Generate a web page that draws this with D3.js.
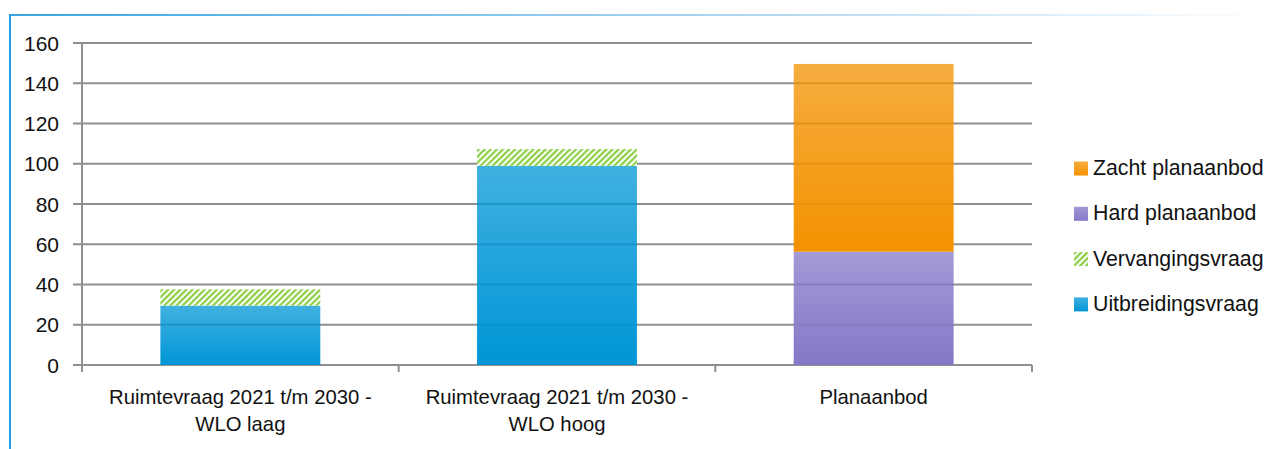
<!DOCTYPE html>
<html>
<head>
<meta charset="utf-8">
<script src="https://cdn.jsdelivr.net/npm/d3@7"></script>
<style>
  body { margin: 0; background: #fff; }
  svg { display: block; }
  text { font-family: "Liberation Sans", Arial, sans-serif; fill: #111; }
</style>
</head>
<body>
<svg id="chart" width="1269" height="449"></svg>
<script>
// categorieen (labels op de x-as, \n = regelafbreking)
var categories = ["Ruimtevraag 2021 t/m 2030 -\nWLO laag", "Ruimtevraag 2021 t/m 2030 -\nWLO hoog", "Planaanbod"];
// waarden per reeks
var uitbreidingsvraag = [29.5, 99.0, 0];
var vervangingsvraag = [8.1, 8.3, 0];
var hardPlanaanbod = [0, 0, 56.3];
var zachtPlanaanbod = [0, 0, 93.3];
var seriesNames = ["Uitbreidingsvraag", "Vervangingsvraag", "Hard planaanbod", "Zacht planaanbod"];
var yTicks = [0, 20, 40, 60, 80, 100, 120, 140, 160];

var svg = d3.select("#chart");
var defs = svg.append("defs");

var colors = {
  "Uitbreidingsvraag": "#0096d6",
  "Hard planaanbod": "#8478c8",
  "Zacht planaanbod": "#f39200"
};

// verloop per segment: boven iets doorzichtig, onder vol
Object.keys(colors).forEach(function(k, i) {
  var g = defs.append("linearGradient")
    .attr("id", "grad" + i)
    .attr("x1", 0).attr("y1", 0).attr("x2", 0).attr("y2", 1);
  g.append("stop").attr("offset", "0%").attr("stop-color", colors[k]).attr("stop-opacity", 0.75);
  g.append("stop").attr("offset", "100%").attr("stop-color", colors[k]).attr("stop-opacity", 1);
  colors[k] = "url(#grad" + i + ")";
});

var pat = defs.append("pattern")
  .attr("id", "hatch")
  .attr("patternUnits", "userSpaceOnUse")
  .attr("width", 4.3).attr("height", 4.3)
  .attr("patternTransform", "rotate(45)");
pat.append("rect").attr("width", 4.3).attr("height", 4.3).attr("fill", "#fff");
pat.append("rect").attr("width", 2.3).attr("height", 4.3).attr("fill", "#8fd04a");
colors["Vervangingsvraag"] = "url(#hatch)";

// rand om de figuur
var edge = defs.append("linearGradient").attr("id", "edge");
edge.append("stop").attr("offset", "0%").attr("stop-color", "#3aa6e2");
edge.append("stop").attr("offset", "55%").attr("stop-color", "#a9d3f0");
edge.append("stop").attr("offset", "100%").attr("stop-color", "#ffffff");
svg.append("rect").attr("x", 9).attr("y", 14).attr("width", 1260).attr("height", 2).attr("fill", "url(#edge)");
svg.append("rect").attr("x", 9).attr("y", 14).attr("width", 2).attr("height", 435).attr("fill", "#1d9fe3");

var plotLeft = 82, plotRight = 1032, plotTop = 43, plotBottom = 365;

var x = d3.scaleBand()
  .domain(d3.range(categories.length))
  .range([plotLeft, plotRight])
  .paddingInner(0.495)
  .paddingOuter(0.2475);
var xOuter = d3.scaleBand().domain(d3.range(categories.length)).range([plotLeft, plotRight]);
var y = d3.scaleLinear().domain([0, 160]).range([plotBottom, plotTop]);

// rasterlijnen
svg.append("g").selectAll("line")
  .data(yTicks)
  .enter().append("line")
  .attr("x1", plotLeft - 9).attr("x2", plotRight)
  .attr("y1", function(d) { return y(d); })
  .attr("y2", function(d) { return y(d); })
  .attr("stroke", "#8f8f8f")
  .attr("stroke-width", 2);

svg.append("g").selectAll("text")
  .data(yTicks)
  .enter().append("text")
  .attr("x", 59)
  .attr("y", function(d) { return y(d); })
  .attr("dy", "0.36em")
  .attr("text-anchor", "end")
  .style("font-size", "21px")
  .text(function(d) { return d; });

// as lijnen
svg.append("line").attr("x1", plotLeft).attr("x2", plotLeft).attr("y1", plotTop).attr("y2", plotBottom + 7)
  .attr("stroke", "#8f8f8f").attr("stroke-width", 2);
svg.append("g").selectAll("line")
  .data(d3.range(categories.length + 1))
  .enter().append("line")
  .attr("x1", function(d) { return plotLeft + d * xOuter.step(); })
  .attr("x2", function(d) { return plotLeft + d * xOuter.step(); })
  .attr("y1", plotBottom).attr("y2", plotBottom + 7)
  .attr("stroke", "#8f8f8f").attr("stroke-width", 2);

// gestapelde staven
var table = categories.map(function(c, i) {
  return {
    i: i,
    "Uitbreidingsvraag": uitbreidingsvraag[i],
    "Vervangingsvraag": vervangingsvraag[i],
    "Hard planaanbod": hardPlanaanbod[i],
    "Zacht planaanbod": zachtPlanaanbod[i]
  };
});
var stacked = d3.stack().keys(seriesNames)(table);

svg.append("g").selectAll("g")
  .data(stacked)
  .enter().append("g")
  .attr("fill", function(s) { return colors[s.key]; })
  .selectAll("rect")
  .data(function(s) { return s.filter(function(d) { return d[1] - d[0] > 0; }); })
  .enter().append("rect")
  .attr("x", function(d) { return x(d.data.i); })
  .attr("width", x.bandwidth())
  .attr("y", function(d) { return y(d[1]); })
  .attr("height", function(d) { return y(d[0]) - y(d[1]); });

// categorie labels
var cat = svg.append("g").selectAll("text")
  .data(categories)
  .enter().append("text")
  .attr("text-anchor", "middle")
  .style("font-size", "20.3px");
cat.each(function(c, i) {
  var t = d3.select(this);
  var cx = x(i) + x.bandwidth() / 2;
  c.split("\n").forEach(function(l, j) {
    t.append("tspan").attr("x", cx).attr("y", 404 + j * 27).text(l);
  });
});

// legenda
var legend = svg.append("g").selectAll("g")
  .data(seriesNames.slice().reverse())
  .enter().append("g")
  .attr("transform", function(d, i) { return "translate(1074," + (167.5 + i * 45.3) + ")"; });
legend.append("rect")
  .attr("y", -6).attr("width", 14).attr("height", 14)
  .attr("fill", function(d) { return colors[d]; });
legend.append("text")
  .attr("x", 19).attr("dy", "0.36em")
  .style("font-size", "21.3px")
  .text(function(d) { return d; });
</script>
</body>
</html>
